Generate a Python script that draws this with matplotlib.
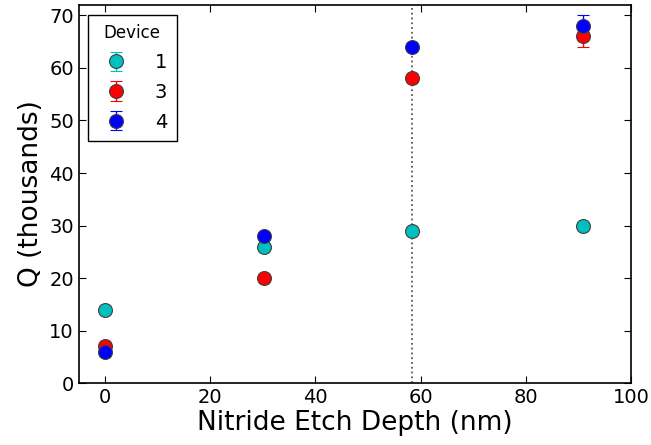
import matplotlib
matplotlib.use("Agg")
import matplotlib.pyplot as plt

# etch depth (nm) for each measured sample set
DEPTHS = [0, 30.3, 58.3, 90.9]

DEVICE_LABELS = ["1", "3", "4"]
DEVICE_COLORS = ["c", "r", "b"]

# Q factor in thousands, with error estimates
Q_VALUES = [
    [14, 26, 29, 30],
    [7, 20, 58, 66],
    [6, 28, 64, 68],
]
Q_ERRORS = [
    [0.6, 0.6, 0.6, 0.6],
    [0.6, 0.6, 0.6, 2.0],
    [0.6, 0.6, 0.6, 2.0],
]

CUTOFF_DEPTH = 58.3


def main():
    fig = plt.figure(figsize=(6.51, 4.45), dpi=100)
    ax = fig.add_axes([0.121, 0.139, 0.848, 0.850])

    ax.axvline(CUTOFF_DEPTH, color="0.35", linestyle=":", linewidth=1.3, zorder=1)

    for label, color, values, errors in zip(DEVICE_LABELS, DEVICE_COLORS, Q_VALUES, Q_ERRORS):
        ax.errorbar(
            DEPTHS,
            values,
            yerr=errors,
            fmt="o",
            color=color,
            ecolor=color,
            markersize=10,
            markeredgecolor="0.25",
            markeredgewidth=0.8,
            elinewidth=1.0,
            capsize=4,
            label=label,
            zorder=3,
        )

    ax.set_xlim(-5, 100)
    ax.set_ylim(0, 72)
    ax.set_xticks([0, 20, 40, 60, 80, 100])
    ax.set_yticks([0, 10, 20, 30, 40, 50, 60, 70])

    ax.tick_params(direction="in", top=True, right=True, length=5, labelsize=14)
    for spine in ax.spines.values():
        spine.set_linewidth(1.2)

    ax.set_xlabel("Nitride Etch Depth (nm)", fontsize=19, labelpad=2)
    ax.set_ylabel("Q (thousands)", fontsize=19, labelpad=4)

    legend = ax.legend(
        title="Device",
        loc="upper left",
        bbox_to_anchor=(0.016, 0.974),
        borderaxespad=0,
        fontsize=14,
        title_fontsize=12,
        fancybox=False,
        framealpha=1,
        edgecolor="black",
        handlelength=1.9,
        handletextpad=1.05,
        borderpad=0.5,
        labelspacing=0.55,
    )
    legend.get_frame().set_linewidth(1.0)

    fig.savefig("out.png", dpi=100)
    plt.close(fig)


if __name__ == "__main__":
    main()
